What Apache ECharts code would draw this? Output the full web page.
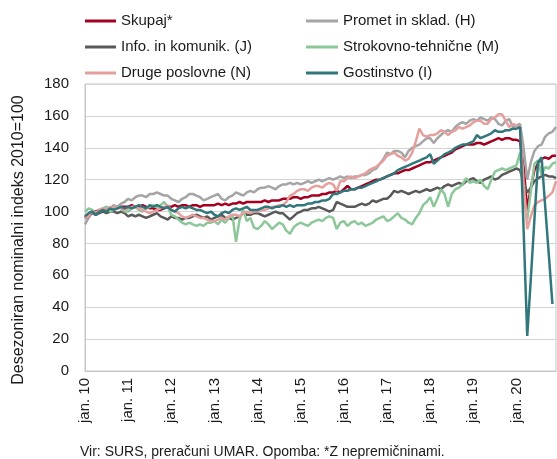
<!DOCTYPE html>
<html>
<head>
<meta charset="utf-8">
<script src="https://cdn.jsdelivr.net/npm/echarts@6/dist/echarts.min.js"></script>
<style>
	html, body { margin: 0; padding: 0; background: #fff; }
	.graf { width: 557px; height: 459px; }
</style>
</head>
<body>
<div class="graf"></div>
<script>
var leta = ['10', '11', '12', '13', '14', '15', '16', '17', '18', '19', '20'];
var meseci = ['jan.', 'feb.', 'mar.', 'apr.', 'maj', 'jun.', 'jul.', 'avg.', 'sep.', 'okt.', 'nov.', 'dec.'];
var yTicks = [0, 180, 20];

// mesecni indeksi, jan. 2010 - dec. 2020
var skupaj = [
	96, 98, 100, 100, 101, 101, 102, 101, 102, 102, 103, 103,
	103, 104, 103, 103, 104, 103, 102, 102, 101, 101, 102, 103,
	103, 104, 103, 104, 104, 103, 104, 104, 103, 104, 104, 104,
	104, 105, 104, 105, 104, 105, 105, 106, 105, 106, 106, 106,
	106, 106, 107, 106, 107, 107, 107, 108, 108, 108, 109, 109,
	108, 109, 109, 110, 110, 110, 111, 111, 112, 112, 113, 112,
	114, 116, 114, 114, 115, 116, 117, 118, 119, 120, 120, 121,
	122, 123, 124, 124, 125, 126, 126, 127, 128, 129, 130, 131,
	131, 132, 133, 134, 135, 136, 137, 139, 140, 141, 142, 142,
	142, 143, 143, 142, 143, 144, 145, 146, 145, 146, 146, 145,
	145, 144, 128, 101, 115, 126, 130, 133, 134, 133, 135, 135
];
var promet = [
	92, 96, 100, 99, 101, 102, 103, 102, 104, 103, 105, 106,
	108, 107, 109, 110, 110, 109, 111, 111, 112, 111, 110, 110,
	108, 107, 106, 108, 109, 111, 111, 110, 109, 107, 108, 109,
	110, 111, 108, 107, 109, 110, 112, 111, 110, 112, 113, 112,
	114, 115, 115, 116, 115, 114, 116, 117, 117, 118, 117, 118,
	117, 118, 119, 118, 119, 120, 119, 120, 121, 120, 121, 122,
	121, 122, 121, 122, 122, 123, 123, 124, 126, 127, 130, 133,
	137, 136, 138, 138, 137, 134, 138, 140, 141, 142, 144, 146,
	146, 143, 146, 148, 150, 151, 150, 153, 155, 156, 155, 157,
	158, 157, 159, 158, 157, 159, 158, 155, 154, 157, 158, 153,
	154, 155, 140, 120, 131, 138, 141, 142, 147, 149, 150, 153
];
var info = [
	96, 97, 99, 98, 99, 100, 99, 100, 100, 99, 100, 99,
	97, 98, 97, 98, 97, 96, 97, 98, 99, 97, 96, 95,
	97, 96, 96, 95, 96, 96, 97, 98, 97, 96, 97, 95,
	96, 97, 98, 96, 96, 95, 96, 97, 99, 98, 98, 99,
	99, 98, 97, 98, 99, 100, 99, 99, 97, 95, 97, 99,
	100, 101, 101, 102, 102, 103, 102, 101, 100, 101, 106, 105,
	104, 103, 103, 103, 104, 105, 104, 105, 107, 106, 107, 108,
	108, 110, 113, 112, 113, 112, 111, 112, 113, 112, 113, 114,
	113, 114, 115, 114, 116, 117, 116, 117, 118, 117, 119, 120,
	121, 119, 118, 120, 121, 122, 120, 121, 123, 124, 125, 126,
	127, 126, 118, 112, 115, 119, 121, 122, 123, 122, 122, 121
];
var strokovno = [
	100, 102, 101, 99, 100, 102, 103, 100, 101, 103, 102, 100,
	100, 102, 103, 101, 100, 102, 103, 104, 103, 104, 106, 103,
	98, 97, 95, 93, 92, 93, 92, 91, 92, 91, 93, 93,
	94, 92, 95, 93, 96, 98, 81, 95, 101, 94, 96, 90,
	89, 91, 94, 92, 89, 91, 93, 92, 88, 86, 90, 92,
	93, 92, 91, 93, 94, 95, 94, 96, 97, 96, 89, 93,
	94, 91, 93, 94, 92, 93, 91, 92, 93, 95, 96, 97,
	94, 95, 97, 99, 96, 95, 93, 92, 96, 99, 104, 106,
	109, 103, 108, 114, 111, 103, 111, 114, 115, 117, 121, 118,
	119, 118, 120, 116, 114, 120, 125, 126, 127, 126, 127, 128,
	129, 137, 110, 95, 113, 130, 132, 123, 128, 127, 130, 131
];
var druge = [
	96, 97, 100, 99, 101, 102, 101, 103, 102, 103, 102, 101,
	102, 103, 103, 102, 101, 100, 99, 100, 101, 102, 103, 104,
	101, 100, 99, 97, 96, 97, 98, 97, 96, 96, 95, 94,
	94, 95, 96, 95, 97, 98, 98, 97, 99, 100, 99, 100,
	100, 101, 101, 102, 103, 103, 104, 104, 106, 110, 111, 113,
	114, 114, 113, 115, 116, 116, 115, 117, 118, 117, 113, 119,
	119, 121, 122, 121, 122, 123, 124, 126, 127, 128, 130, 132,
	135, 136, 137, 135, 134, 132, 133, 137, 144, 152, 148, 147,
	148, 148, 149, 151, 150, 148, 150, 151, 153, 152, 153, 154,
	156, 157, 157, 155, 155, 158, 159, 161, 161, 157, 153, 155,
	154, 153, 118, 89, 97, 104, 106, 107, 108, 110, 112, 119
];
var gostinstvo = [
	97, 99, 100, 98, 100, 101, 100, 102, 101, 102, 103, 102,
	103, 102, 103, 104, 103, 102, 104, 103, 104, 103, 102, 103,
	101, 100, 102, 103, 102, 103, 102, 101, 101, 100, 99, 100,
	98, 97, 99, 100, 99, 101, 102, 101, 102, 103, 101, 101,
	101, 102, 103, 103, 102, 103, 103, 104, 103, 104, 103, 104,
	104, 104, 105, 105, 106, 106, 107, 107, 108, 111, 111, 112,
	113, 113, 114, 114, 115, 115, 116, 117, 118, 119, 120, 121,
	122, 123, 124, 126, 127, 128, 129, 130, 131, 132, 133, 134,
	136, 130, 132, 134, 136, 137, 138, 140, 141, 142, 142, 143,
	144, 148, 146, 147, 148, 149, 151, 150, 150, 151, 151, 152,
	152, 153, 88, 22, 58, 95, 131, 134, 103, 73, 42, null
];

var kategorije = [];
for (let i = 0; i < leta.length; i++) {
	for (let j = 0; j < meseci.length; j++) {
		kategorije.push(meseci[j] + ' ' + leta[i]);
	}
}

var serije = [
	['Skupaj*', skupaj, '#a50021'],
	['Promet in sklad. (H)', promet, '#a5a5a5'],
	['Info. in komunik. (J)', info, '#595959'],
	['Strokovno-tehnične (M)', strokovno, '#8cc79a'],
	['Druge poslovne (N)', druge, '#e5a09d'],
	['Gostinstvo (I)', gostinstvo, '#31777c']
];

let font = '"Liberation Sans", Arial, sans-serif';
let myChart = echarts.init(document.getElementsByClassName('graf')[0]);
let option;

let legenda = (podatki, left, sirina) => {
	return {
		data: podatki,
		orient: 'vertical',
		left: left,
		top: 7,
		icon: 'rect',
		itemWidth: sirina,
		itemHeight: 3,
		itemGap: 8,
		textStyle: { fontFamily: font, fontSize: 15, color: '#1a1a1a', lineHeight: 18 }
	};
};

option = {
	animation: false,
	legend: [
		legenda(['Skupaj*', 'Info. in komunik. (J)', 'Druge poslovne (N)'], 80, 31),
		legenda(['Promet in sklad. (H)', 'Strokovno-tehnične (M)', 'Gostinstvo (I)'], 301, 32)
	],
	grid: {
		left: 85,
		right: 1,
		top: 84,
		bottom: 88,
		show: true,
		borderColor: '#c6c6c6',
		borderWidth: 1
	},
	xAxis: {
		type: 'category',
		data: kategorije,
		boundaryGap: false,
		axisLine: { lineStyle: { color: '#c6c6c6' } },
		axisTick: { show: false },
		axisLabel: {
			interval: 11,
			rotate: 90,
			margin: 7,
			fontFamily: font,
			fontSize: 15,
			color: '#1a1a1a'
		}
	},
	yAxis: {
		type: 'value',
		min: yTicks[0],
		max: yTicks[1],
		interval: yTicks[2],
		axisLine: { show: true, lineStyle: { color: '#c6c6c6' } },
		axisTick: { show: false },
		splitLine: { lineStyle: { color: '#d4d4d4' } },
		axisLabel: { margin: 16, fontFamily: font, fontSize: 15, color: '#1a1a1a' }
	},
	graphic: [{
		type: 'text',
		x: 19,
		y: 240,
		rotation: Math.PI / 2,
		style: {
			text: 'Desezoniran nominalni indeks 2010=100',
			fontFamily: font,
			fontSize: 16,
			fill: '#1a1a1a',
			align: 'center',
			verticalAlign: 'middle'
		}
	}, {
		type: 'text',
		left: 80,
		top: 445,
		style: {
			text: 'Vir: SURS, preračuni UMAR. Opomba: *Z nepremičninami.',
			fontFamily: font,
			fontSize: 14,
			fill: '#1a1a1a'
		}
	}],
	series: serije.map(s => ({
		name: s[0],
		type: 'line',
		data: s[1],
		symbol: 'none',
		color: s[2],
		lineStyle: { width: 2.5, color: s[2] }
	}))
};
option && myChart.setOption(option);
</script>
</body>
</html>
